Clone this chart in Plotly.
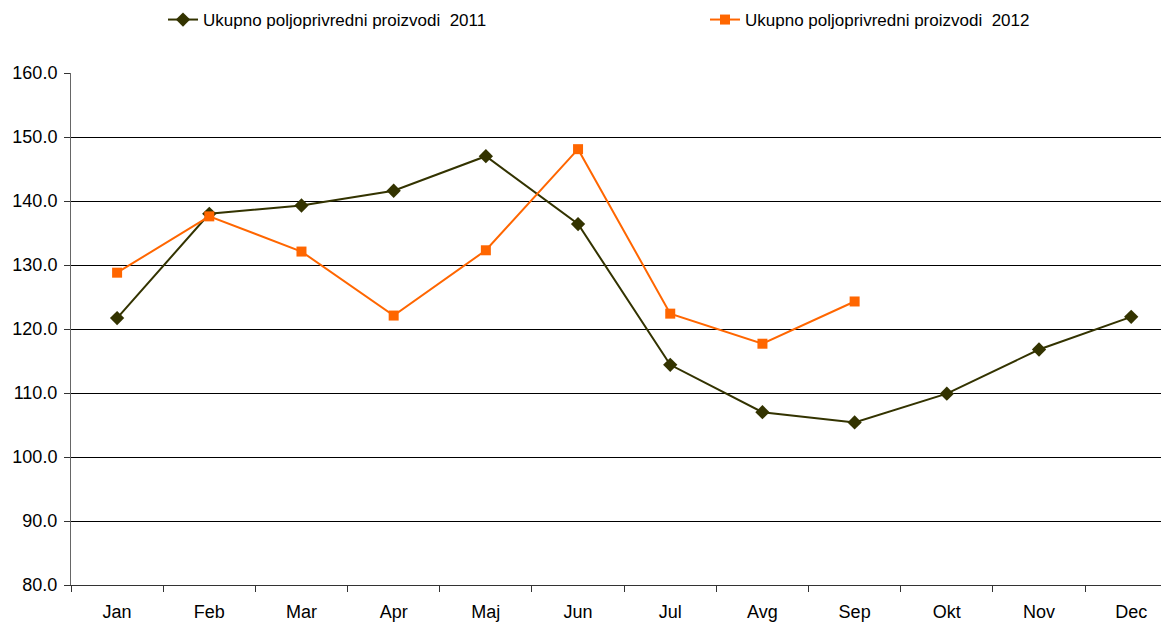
import plotly.graph_objects as go

months = ["Jan", "Feb", "Mar", "Apr", "Maj", "Jun", "Jul", "Avg", "Sep", "Okt", "Nov", "Dec"]
vals_2011 = [121.7, 138.0, 139.3, 141.6, 147.0, 136.4, 114.4, 107.0, 105.4, 109.9, 116.8, 121.9]
vals_2012 = [128.8, 137.6, 132.1, 122.1, 132.3, 148.1, 122.4, 117.7, 124.3]
name_2011 = "Ukupno poljoprivredni proizvodi  2011"
name_2012 = "Ukupno poljoprivredni proizvodi  2012"
y_ticks = [80, 90, 100, 110, 120, 130, 140, 150, 160]

W, H = 1161, 616

fig = go.Figure()
fig.add_trace(go.Scatter(
    x=months, y=vals_2011, name=name_2011, mode="lines+markers",
    line=dict(color="#333300", width=2),
    marker=dict(symbol="diamond", size=11, color="#333300"),
    legend="legend",
))
fig.add_trace(go.Scatter(
    x=months[:len(vals_2012)], y=vals_2012, name=name_2012, mode="lines+markers",
    line=dict(color="#FF6600", width=2),
    marker=dict(symbol="square", size=10, color="#FF6600"),
    legend="legend2",
))

leg_common = dict(orientation="h", xanchor="left", yanchor="middle",
                  xref="container", yref="container", y=1 - 12 / H,
                  font=dict(size=17), bgcolor="rgba(0,0,0,0)")

fig.update_layout(
    width=W, height=H,
    margin=dict(l=63, r=0, t=65, b=39, autoexpand=False),
    paper_bgcolor="white", plot_bgcolor="white",
    font=dict(family="Liberation Sans, Arial, sans-serif", size=18, color="black"),
    showlegend=True,
    legend=dict(x=155 / W, **leg_common),
    legend2=dict(x=697 / W, **leg_common),
    xaxis=dict(type="category", categoryorder="array", categoryarray=months,
               range=[-0.5, 11.41], showgrid=False, zeroline=False,
               showline=True, linecolor="#333333", linewidth=1,
               ticks="outside", tickson="boundaries", ticklen=6, tickcolor="#333333",
               ticklabelstandoff=10,
               tickfont=dict(size=18), automargin=False),
    yaxis=dict(range=[80, 160], tickvals=y_ticks, tickformat=".1f",
               showgrid=True, gridcolor="black", gridwidth=1, zeroline=False,
               showline=True, linecolor="#666666", linewidth=1,
               ticks="outside", ticklen=6, tickcolor="#333333",
               ticklabelstandoff=3,
               tickfont=dict(size=18), automargin=False),
)

fig.write_html("out.html")
